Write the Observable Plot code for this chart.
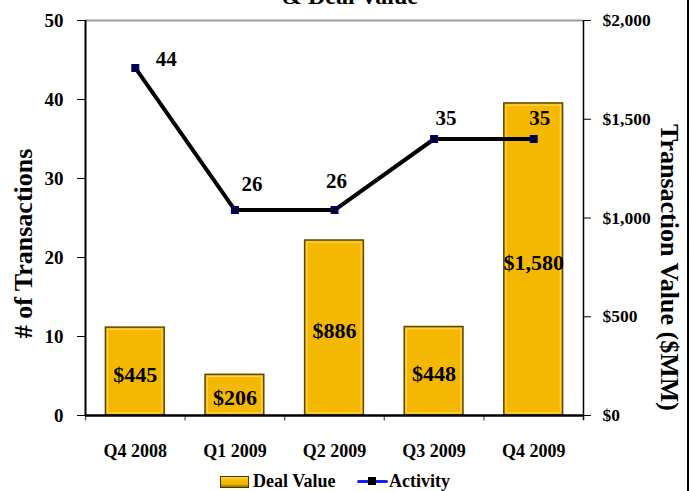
<!DOCTYPE html>
<html>
<head>
<meta charset="utf-8">
<script src="https://cdn.jsdelivr.net/npm/d3@7"></script>
<script src="https://cdn.jsdelivr.net/npm/@observablehq/plot@0.6"></script>
<style>
  html, body { margin: 0; padding: 0; background: #fff; overflow: hidden; }
  #wrap { position: relative; width: 690px; height: 491px; font-family: "Liberation Serif", serif; font-weight: bold; color: #000; }
  .abs { position: absolute; white-space: nowrap; }
</style>
</head>
<body>
<div id="wrap"></div>
<script>
// ---- data ----
const titleText = "& Deal Value";
const quarters = ["Q4 2008", "Q1 2009", "Q2 2009", "Q3 2009", "Q4 2009"];
const dealValue = [445, 206, 886, 448, 1580];   // $MM (right axis)
const activity = [44, 26, 26, 35, 35];          // # of transactions (left axis)
const leftTicks = [0, 10, 20, 30, 40, 50];
const rightTicks = [0, 500, 1000, 1500, 2000];
const leftLabel = "# of Transactions";
const rightLabel = "Transaction Value ($MM)";
const legendLabels = ["Deal Value", "Activity"];

const R = rightTicks[rightTicks.length - 1] / leftTicks[leftTicks.length - 1]; // $MM per transaction unit
const data = quarters.map((q, i) => ({q, value: dealValue[i], count: activity[i]}));
const fmt = d3.format(",");
const FONT = "Liberation Serif";
const half = 49.8; // half band step

// label nudges (Excel-style placement)
const labelOffsets = [[31, -9], [17, -26], [2, -29], [12, -21], [6, -21]];

const lineLabelMarks = data.map((d, i) =>
  Plot.text([d], {x: "q", y: "count", text: (d) => String(d.count), dx: labelOffsets[i][0], dy: labelOffsets[i][1],
    fontSize: 21, fontWeight: "bold", fontFamily: FONT, fill: "#000"}));

const plot = Plot.plot({
  width: 690,
  height: 491,
  marginLeft: 85,
  marginRight: 107,
  marginTop: 20,
  marginBottom: 76,
  style: {fontFamily: FONT, background: "transparent", color: "#000", overflow: "visible"},
  x: {domain: quarters, paddingInner: 0.41, paddingOuter: 0.205, round: false, axis: null},
  y: {domain: [0, 50], axis: null},
  marks: [
    Plot.ruleY([50], {stroke: "#9c9c9c", strokeWidth: 2}),
    // bars (deal value, scaled to the right axis)
    Plot.barY(data, {x: "q", y: (d) => d.value / R, fill: "#F5B800", stroke: "#5a4800", strokeWidth: 1.5}),
    Plot.barY(data, {x: "q", y: (d) => d.value / R, fill: "none", stroke: "#FFD24D", strokeWidth: 1.2, inset: 2.2}),
    Plot.text(data, {x: "q", y: (d) => d.value / R / 2, text: (d) => "$" + fmt(d.value), dy: 3,
      fontSize: 22, fontWeight: "bold", fontFamily: FONT, fill: "#000"}),
    // axes lines
    Plot.ruleX([quarters[0]], {x: (d) => d, dx: -half, y1: 0, y2: 50, stroke: "#000", strokeWidth: 2}),
    Plot.ruleX([quarters[quarters.length - 1]], {x: (d) => d, dx: half, y1: -0.65, y2: 50, stroke: "#000", strokeWidth: 1.5}),
    Plot.ruleX(quarters, {x: (d) => d, dx: -half, y1: 0, y2: -0.7, stroke: "#555", strokeWidth: 1.2}),
    Plot.ruleY([0], {stroke: "#000", strokeWidth: 2.5}),
    Plot.axisY({ticks: leftTicks, anchor: "left", tickSize: 8, tickPadding: 14, tickFormat: (d) => String(d),
      fontSize: 19, fontWeight: "bold", fontFamily: FONT, label: null, stroke: "#000"}),
    Plot.axisY({ticks: rightTicks.map((v) => v / R), anchor: "right", tickSize: 7, tickPadding: 12,
      tickFormat: (d) => "$" + fmt(Math.round(d * R)), fontSize: 17.5, fontWeight: "bold", fontFamily: FONT, label: null, stroke: "#000"}),
    Plot.axisX({tickSize: 0, tickPadding: 29, fontSize: 18, fontWeight: "bold", fontFamily: FONT, label: null}),
    // activity line
    Plot.line(data, {x: "q", y: "count", stroke: "#000", strokeWidth: 4}),
    Plot.dot(data, {x: "q", y: "count", symbol: "square", r: 3.8, fill: "#000022", stroke: "#000080", strokeWidth: 1.3}),
    ...lineLabelMarks
  ]
});

const wrap = document.getElementById("wrap");
wrap.appendChild(plot);

// axis titles
const svg = d3.select(plot);
svg.append("text").attr("transform", "translate(32,243.5) rotate(-90)")
  .attr("text-anchor", "middle").attr("font-family", FONT).attr("font-weight", "bold").attr("font-size", 26)
  .attr("fill", "#000").text(leftLabel);
svg.append("text").attr("transform", "translate(661,267.5) rotate(90)")
  .attr("text-anchor", "middle").attr("font-family", FONT).attr("font-weight", "bold").attr("font-size", 26)
  .attr("fill", "#000").text(rightLabel);

// title (cut at top)
const t = document.createElement("div");
t.className = "abs";
t.style.cssText = "left:200px;width:300px;top:-16px;text-align:center;font-size:24px;line-height:24px;";
t.textContent = titleText;
wrap.appendChild(t);

// right border
const b = document.createElement("div");
b.className = "abs";
b.style.cssText = "left:687px;top:0;width:1.5px;height:491px;background:#000;";
wrap.appendChild(b);

// legend
const lg = document.createElement("div");
lg.className = "abs";
lg.style.cssText = "left:0;top:0;";
lg.innerHTML = `
  <div class="abs" style="left:220px;top:476px;width:27px;height:10px;background:linear-gradient(#FFD24D,#F5B800 40%,#F5B800 70%,#8a6d00);border:1.5px solid #4a3a00;"></div>
  <div class="abs" style="left:253px;top:472px;font-size:18px;line-height:18px;">${legendLabels[0]}</div>
  <div class="abs" style="left:357px;top:479.5px;width:31px;height:3.5px;background:#1a1aff;border-radius:2px;"></div>
  <div class="abs" style="left:368px;top:477px;width:8px;height:8px;background:#000;"></div>
  <div class="abs" style="left:389px;top:472px;font-size:18px;line-height:18px;">${legendLabels[1]}</div>
`;
wrap.appendChild(lg);
</script>
</body>
</html>
